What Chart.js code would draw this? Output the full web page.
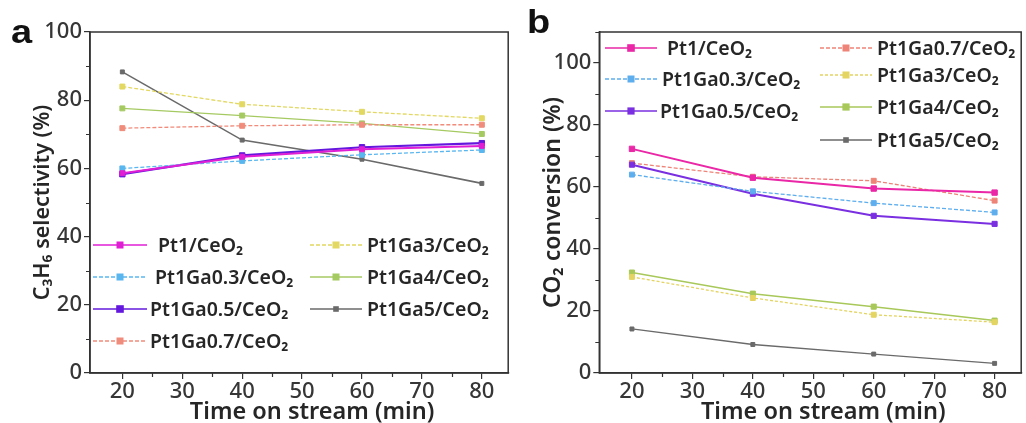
<!DOCTYPE html>
<html><head><meta charset="utf-8">
<script src="https://cdn.jsdelivr.net/npm/chart.js@4.4.0/dist/chart.umd.min.js"></script>
<style>
html,body{margin:0;padding:0;background:#fff;}
#wrap{position:relative;width:1026px;height:423px;overflow:hidden;}
.panel{position:absolute;top:0;width:513px;height:423px;}
.lab{position:absolute;font-family:'Liberation Sans',Arial,sans-serif;font-weight:700;font-size:33px;line-height:33px;color:#111;transform:scaleX(1.15);transform-origin:left top;}
</style></head><body>
<div id="wrap">
<div class="panel" style="left:0"><canvas id="ca" width="513" height="423"></canvas></div>
<div class="panel" style="left:513px"><canvas id="cb" width="513" height="423"></canvas></div>
<div class="lab" style="left:11px;top:15px">a</div>
<div class="lab" style="left:527px;top:5px">b</div>
</div>
<script>
// ---- data ----
const times = [20, 40, 60, 80];
const seriesNames = ['Pt1/CeO₂','Pt1Ga0.3/CeO₂','Pt1Ga0.5/CeO₂','Pt1Ga0.7/CeO₂','Pt1Ga3/CeO₂','Pt1Ga4/CeO₂','Pt1Ga5/CeO₂'];
const xTickLabels = [20, 30, 40, 50, 60, 70, 80];
const yTickLabelsA = [0, 20, 40, 60, 80, 100];
const yTickLabelsB = [0, 20, 40, 60, 80, 100];
const xTitle = 'Time on stream (min)';

// C3H6 selectivity (%)
const selPt1  = [58.6, 63.4, 65.6, 66.6];
const selGa03 = [60.0, 62.2, 64.0, 65.4];
const selGa05 = [58.3, 63.8, 66.2, 67.4];
const selGa07 = [71.8, 72.5, 72.8, 72.8];
const selGa3  = [84.0, 78.8, 76.6, 74.7];
const selGa4  = [77.6, 75.5, 73.2, 70.1];
const selGa5  = [88.3, 68.3, 62.7, 55.6];

// CO2 conversion (%)
const convPt1  = [72.3, 63.0, 59.5, 58.2];
const convGa03 = [64.0, 58.6, 54.8, 51.8];
const convGa05 = [67.2, 57.8, 50.7, 48.1];
const convGa07 = [67.7, 63.3, 62.0, 55.6];
const convGa3  = [31.0, 24.2, 18.8, 16.4];
const convGa4  = [32.4, 25.6, 21.4, 16.9];
const convGa5  = [14.2, 9.2, 6.1, 3.1];

// ---- styles ----
const FONT = "'Noto Sans', 'DejaVu Sans', sans-serif";
const stylesA = [
  {c:'#e01fd4', w:2.0, dash:[], r:3.5},
  {c:'#5ab6ee', w:1.3, dash:[4,2], r:3.5},
  {c:'#6418de', w:2.2, dash:[], r:3.8},
  {c:'#f08c7c', w:1.3, dash:[4,2], r:3.5},
  {c:'#e2d862', w:1.3, dash:[4,2], r:3.5},
  {c:'#a6ca62', w:1.3, dash:[], r:3.5},
  {c:'#6a6a6a', w:1.6, dash:[], r:2.8}
];
const stylesB = [
  {c:'#ea27a6', w:2.0, dash:[], r:3.8},
  {c:'#5eaeee', w:1.3, dash:[4,2], r:3.5},
  {c:'#7a2fe0', w:2.0, dash:[], r:3.6},
  {c:'#ee8478', w:1.3, dash:[4,2], r:3.5},
  {c:'#e4d462', w:1.3, dash:[3,2], r:3.5},
  {c:'#a8c85a', w:1.5, dash:[], r:3.6},
  {c:'#6a6a6a', w:1.3, dash:[], r:2.8}
];

function mkDatasets(arrs, styles){
  return arrs.map((a,i)=>({
    label: seriesNames[i],
    data: a.map((v,j)=>({x: times[j], y: v})),
    borderColor: styles[i].c,
    backgroundColor: styles[i].c,
    borderWidth: styles[i].w,
    borderDash: styles[i].dash,
    pointStyle: 'rect',
    pointRadius: styles[i].r,
    pointHoverRadius: styles[i].r,
    pointBackgroundColor: styles[i].c,
    pointBorderColor: styles[i].c,
    pointBorderWidth: 1,
    tension: 0
  }));
}

const framePlugin = {
  id: 'frameAndMinor',
  afterDraw(chart, args, opts){
    const ctx = chart.ctx, a = chart.chartArea;
    const xs = chart.scales.x, ys = chart.scales.y;
    ctx.save();
    ctx.strokeStyle = '#333';
    ctx.lineWidth = 1.5;
    ctx.strokeRect(a.left, a.top, a.right - a.left, a.bottom - a.top);
    ctx.lineWidth = 1.2;
    ctx.beginPath();
    (opts.minorX||[]).forEach(v=>{
      const p = Math.round(xs.getPixelForValue(v)) + 0.5;
      ctx.moveTo(p, a.bottom); ctx.lineTo(p, a.bottom + 4);
    });
    (opts.minorY||[]).forEach(v=>{
      const p = Math.round(ys.getPixelForValue(v)) + 0.5;
      ctx.moveTo(a.left, p); ctx.lineTo(a.left - 4, p);
    });
    ctx.stroke();
    // x-axis title (slightly right of centre, as in the original)
    ctx.fillStyle = '#262626';
    ctx.font = '600 23.5px ' + FONT;
    ctx.textAlign = 'center';
    ctx.textBaseline = 'middle';
    ctx.fillText(opts.xTitle, (a.left + a.right)/2 + 13, chart.height - 11);
    // legend
    const ds = chart.data.datasets;
    (opts.items||[]).forEach(it=>{
      const d = ds[it.i];
      ctx.strokeStyle = d.borderColor;
      ctx.lineWidth = Math.min(d.borderWidth, 1.6);
      ctx.setLineDash(d.borderDash || []);
      ctx.beginPath();
      ctx.moveTo(it.x1, it.y); ctx.lineTo(it.x2, it.y);
      ctx.stroke();
      ctx.setLineDash([]);
      const m = (it.x1 + it.x2)/2, r = d.pointRadius;
      ctx.fillStyle = d.pointBackgroundColor;
      ctx.fillRect(m - r, it.y - r, 2*r, 2*r);
      ctx.fillStyle = '#262626';
      ctx.font = '600 19.5px ' + FONT;
      ctx.textBaseline = 'middle';
      ctx.textAlign = 'left';
      ctx.fillText(d.label, it.tx, it.y + 1);
    });
    ctx.restore();
  }
};

function mkOptions(yMax, yTitle, yTitleSize, yTicks, leftPad, yWidth, rightPad, legendItems){
  return {
    responsive: false,
    animation: false,
    events: [],
    layout: {padding: {left: leftPad, right: rightPad, top: 32, bottom: 0}},
    plugins: {
      legend: {display: false},
      tooltip: {enabled: false},
      frameAndMinor: {
        minorX: [25, 35, 45, 55, 65, 75],
        minorY: yMax > 100 ? [10,30,50,70,90,110] : [10,30,50,70,90],
        items: legendItems,
        xTitle: xTitle
      }
    },
    scales: {
      x: {
        type: 'linear', min: 14.6, max: 84.4,
        afterBuildTicks: s => { s.ticks = xTickLabels.map(v=>({value:v})); },
        afterFit: s => { s.height = 50; },
        grid: {display: true, drawOnChartArea: false, drawTicks: true, tickLength: 6, color: '#333', lineWidth: 1.2},
        border: {display: true, color: '#333', width: 1.5},
        ticks: {font: {family: FONT, size: 22, weight: '500'}, color: '#363636', padding: 0, maxRotation: 0},
        title: {display: false}
      },
      y: {
        type: 'linear', min: 0, max: yMax,
        afterBuildTicks: s => { s.ticks = yTicks.map(v=>({value:v})); },
        afterFit: s => { s.width = yWidth; },
        grid: {display: true, drawOnChartArea: false, drawTicks: true, tickLength: 6, color: '#333', lineWidth: 1.2},
        border: {display: true, color: '#333', width: 1.5},
        ticks: {font: {family: FONT, size: 22, weight: '500'}, color: '#363636', padding: 2},
        title: {display: true, text: yTitle, font: {family: FONT, size: yTitleSize, weight: '600', lineHeight: 1}, color: '#262626', padding: {top: 0, bottom: 0}}
      }
    }
  };
}

const legendA = [
  {i:0, x1:93, x2:147, tx:158, y:245},
  {i:1, x1:93, x2:147, tx:155, y:277},
  {i:2, x1:93, x2:147, tx:150, y:309},
  {i:3, x1:93, x2:147, tx:150, y:341},
  {i:4, x1:310, x2:362, tx:367, y:245},
  {i:5, x1:310, x2:362, tx:367, y:277},
  {i:6, x1:310, x2:362, tx:367, y:309}
];
const legendB = [
  {i:0, x1:92, x2:144, tx:154, y:48},
  {i:1, x1:92, x2:144, tx:149, y:79},
  {i:2, x1:92, x2:144, tx:147, y:111},
  {i:3, x1:307, x2:359, tx:364, y:48},
  {i:4, x1:307, x2:359, tx:364, y:75},
  {i:5, x1:307, x2:359, tx:364, y:107},
  {i:6, x1:307, x2:359, tx:364, y:140}
];

new Chart(document.getElementById('ca'), {
  type: 'line',
  data: {datasets: mkDatasets([selPt1, selGa03, selGa05, selGa07, selGa3, selGa4, selGa5], stylesA)},
  options: mkOptions(100, 'C₃H₆ selectivity (%)', 21.5, yTickLabelsA, 32, 58, 1.3, legendA),
  plugins: [framePlugin]
});
new Chart(document.getElementById('cb'), {
  type: 'line',
  data: {datasets: mkDatasets([convPt1, convGa03, convGa05, convGa07, convGa3, convGa4, convGa5], stylesB)},
  options: mkOptions(110, 'CO₂ conversion (%)', 23, yTickLabelsB, 29, 57.3, 4.3, legendB),
  plugins: [framePlugin]
});
</script>
</body></html>
